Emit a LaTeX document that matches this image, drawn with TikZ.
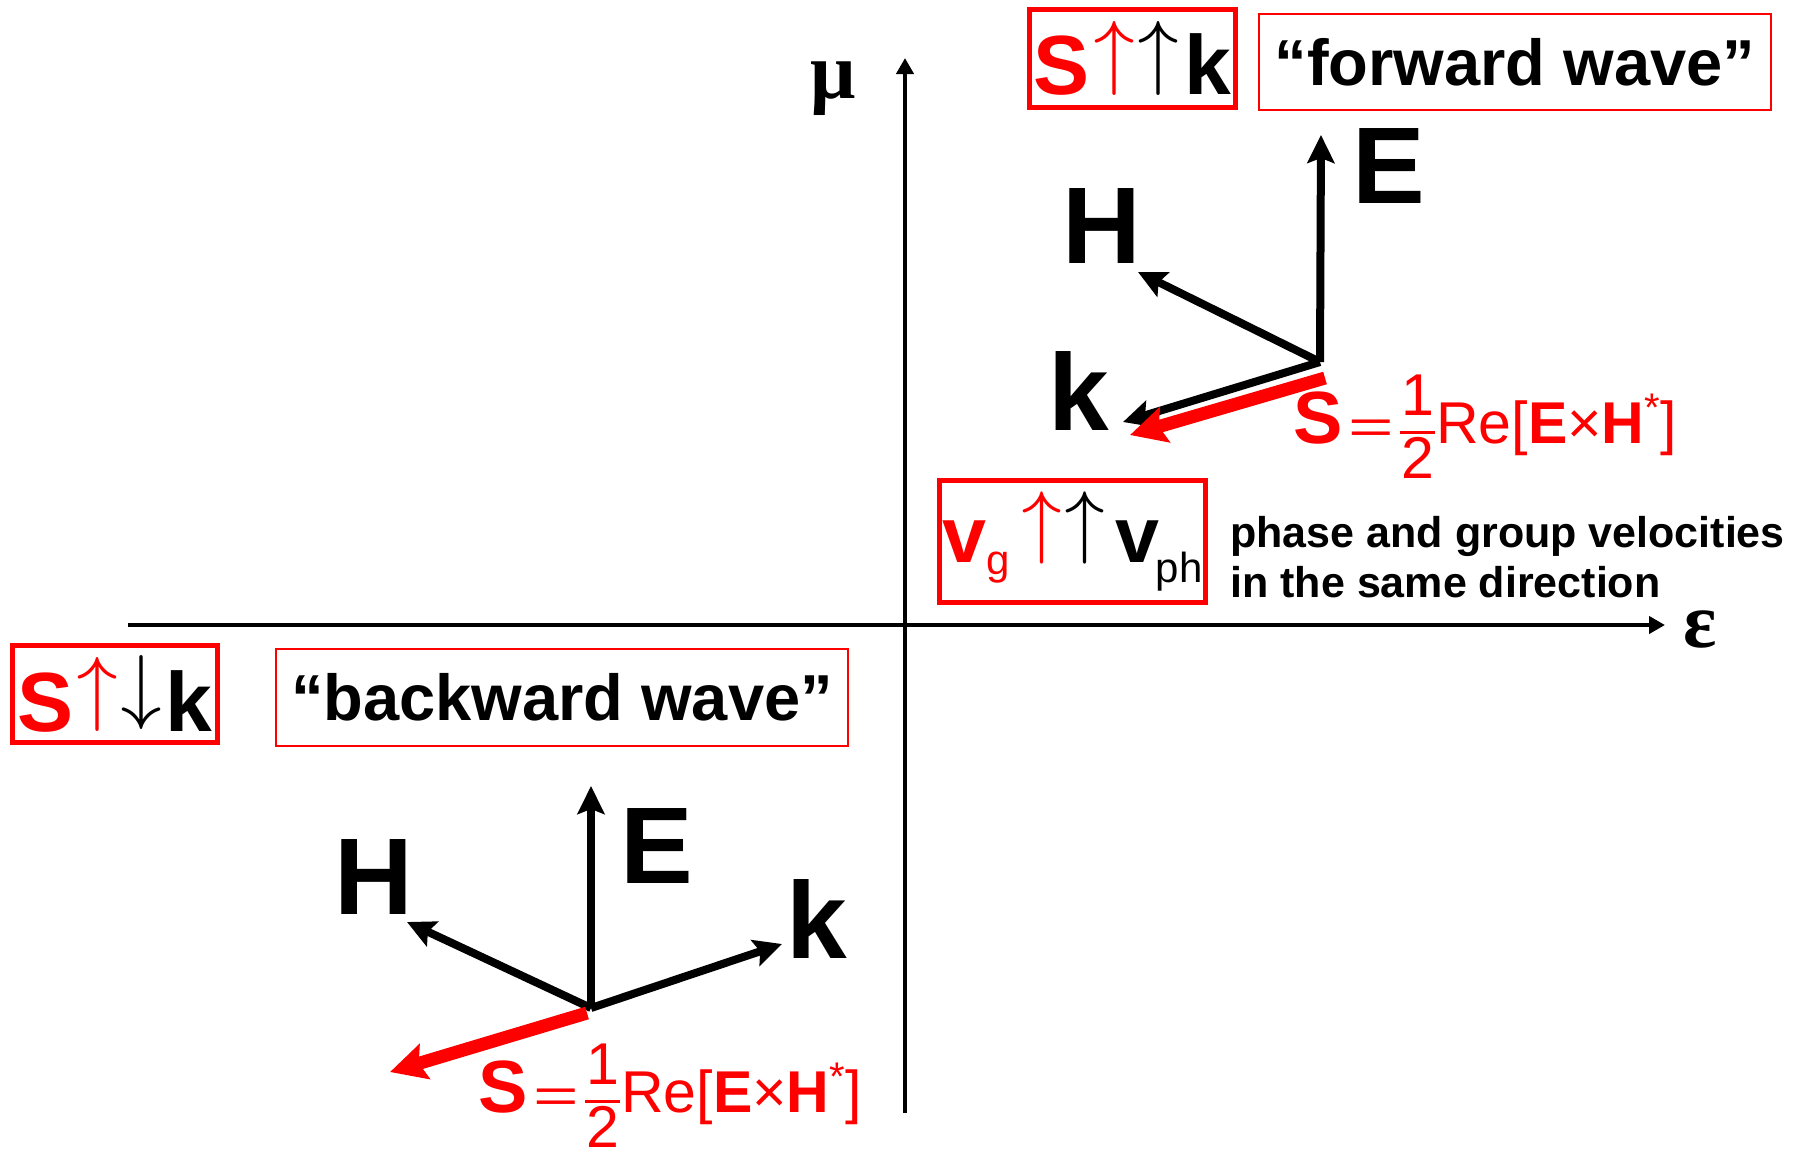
\documentclass[tikz,border=0pt]{standalone}
\usepackage{fontspec}
\usepackage{graphicx}
\setmainfont{Liberation Sans}
\newfontfamily\serifgreek{Liberation Serif}
\newfontfamily\arrfont{latinmodern-math.otf}
\usetikzlibrary{arrows.meta}
\newcommand{\setfs}[1]{\fontsize{#1}{#1}\selectfont}
\newcommand{\upA}{\raisebox{0.194em}{\mdseries\arrfont ↑}}
\newcommand{\downA}{\raisebox{0.194em}{\mdseries\arrfont ↓}}
\newcommand{\halffrac}{\rlap{\makebox[17.5pt]{\raisebox{14pt}{1}}}\rlap{\makebox[17.5pt]{\raisebox{-17.5pt}{2}}}\rule[4.75pt]{17.5pt}{1.5pt}}
\newcommand{\poynting}{{\setfs{37}\bfseries S}\kern3pt\scalebox{1.3}[0.8]{\setfs{30}=}\kern3pt\halffrac\kern0.5pt Re[{\bfseries E}×{\bfseries H}\raisebox{11pt}{\setfs{20}*}]}
\begin{document}
\begin{tikzpicture}[x=0.5pt,y=-0.5pt,
  vec/.style={line width=4pt, -{Stealth[length=14pt,width=13.5pt,inset=2.5pt]}},
  svec/.style={draw=red, line width=6.5pt, -{Stealth[length=18pt,width=18pt,inset=3pt]}},
  axis/.style={line width=2.3pt, -{Triangle[length=8pt,width=8.5pt]}},
  thickbox/.style={draw=red, line width=2.5pt, inner sep=0pt},
  thinbox/.style={draw=red, line width=1pt, inner sep=0pt},
  lbl/.style={inner sep=0pt, anchor=base west, font=\setfs{54.5}\bfseries},
  txt/.style={inner sep=0pt, anchor=base west}]
\useasboundingbox (0,0) rectangle (1799,1158);

% axes
\coordinate (ybot) at (905,1113);
\coordinate (ytop) at (905,58);
\coordinate (xleft) at (128,625);
\coordinate (xright) at (1665,625);
\draw[axis] (ybot) -- (ytop);
\draw[axis] (xleft) -- (xright);
\node[txt, font=\serifgreek\bfseries\setfs{40}] (mu) at (810,98) {μ};
\node[txt, font=\serifgreek\bfseries\setfs{39}] (eps) at (1683,647) {ε};

% top boxes
\node[thickbox, minimum width=103pt, minimum height=49pt] (fwdsym) at (1132.5,58.5)
  {\setfs{42}\bfseries\textcolor{red}{S}\kern2pt\textcolor{red}{\upA}\kern1pt\upA\kern2.5pt k};
\node[thinbox, minimum width=256pt, minimum height=48pt, font=\setfs{32.5}\bfseries] (fwdtxt) at (1515,62)
  {“forward wave”};

% forward wave vectors
\coordinate (O1) at (1320,362);
\coordinate (E1) at (1321,135);
\coordinate (H1) at (1138,272);
\coordinate (K1) at (1123,422);
\coordinate (S1a) at (1325,378);
\coordinate (S1b) at (1130,435);
\draw[vec] (O1) -- (E1);
\draw[vec] (O1) -- (H1);
\draw[vec] (O1) -- (K1);
\draw[svec] (S1a) -- (S1b);
\node[lbl] (E1l) at (1352,203) {E};
\node[lbl] (H1l) at (1062,263) {H};
\node[lbl] (K1l) at (1048,430) {k};
\node[txt, red, font=\setfs{29.5}] (P1) at (1293,443) {\poynting};

% velocities box
\node[thickbox, minimum width=133pt, minimum height=61pt] (vbox) at (1072.5,541.5)
  {\setfs{39.5}\bfseries\textcolor{red}{v\raisebox{-6pt}{\mdseries\setfs{21}g}}\kern6pt\textcolor{red}{\setfs{41}\upA}\kern1pt{\setfs{41}\upA}\kern5pt v\kern-2pt\raisebox{-10pt}{\mdseries\setfs{21}ph}};
\node[txt, font=\setfs{21.5}\bfseries] (ph1) at (1230,547) {phase and group velocities};
\node[txt, font=\setfs{21.5}\bfseries] (ph2) at (1230,597) {in the same direction};

% bottom boxes
\node[thickbox, minimum width=102.5pt, minimum height=48.5pt] (bwdsym) at (115,694)
  {\setfs{42}\bfseries\textcolor{red}{S}\kern1.5pt\textcolor{red}{\upA}\kern1pt\downA\kern1.5pt k};
\node[thinbox, minimum width=286pt, minimum height=48.5pt, font=\setfs{32.5}\bfseries] (bwdtxt) at (562,697.5)
  {“backward wave”};

% backward wave vectors
\coordinate (O2) at (591,1008);
\coordinate (E2) at (591,786);
\coordinate (H2) at (407,922);
\coordinate (K2) at (782,944);
\coordinate (S2a) at (587,1013);
\coordinate (S2b) at (390,1072);
\draw[vec] (O2) -- (E2);
\draw[vec] (O2) -- (H2);
\draw[vec] (O2) -- (K2);
\draw[svec] (S2a) -- (S2b);
\node[lbl] (E2l) at (620,883) {E};
\node[lbl] (H2l) at (334,914) {H};
\node[lbl] (K2l) at (786,958) {k};
\node[txt, red, font=\setfs{29.5}] (P2) at (478,1112) {\poynting};
\end{tikzpicture}
\end{document}
